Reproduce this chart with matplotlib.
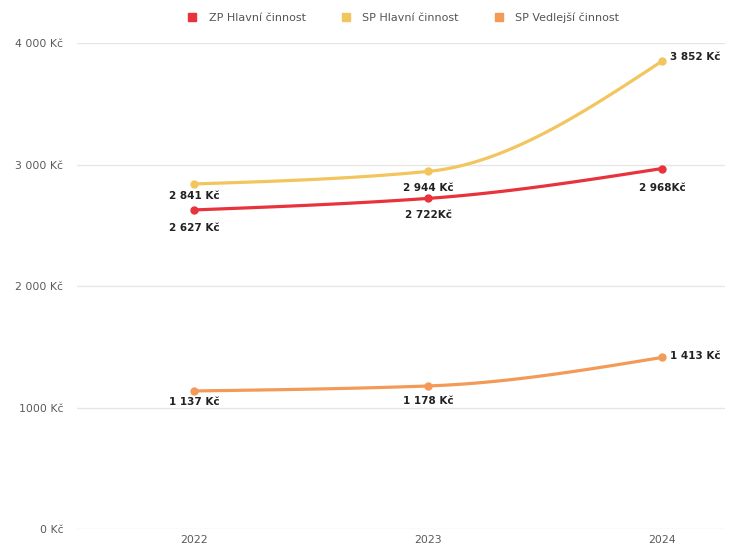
import numpy as np
import matplotlib.pyplot as plt
from matplotlib.lines import Line2D

plt.rcParams['font.family'] = ['DejaVu Sans']

# data
years = ['2022', '2023', '2024']
zp_hlavni = [2627, 2722, 2968]
sp_hlavni = [2841, 2944, 3852]
sp_vedlejsi = [1137, 1178, 1413]
zp_labels = ['2 627 Kč', '2 722Kč', '2 968Kč']
sp_labels = ['2 841 Kč', '2 944 Kč', '3 852 Kč']
sv_labels = ['1 137 Kč', '1 178 Kč', '1 413 Kč']
y_ticks = [0, 1000, 2000, 3000, 4000]
y_tick_labels = ['0 Kč', '1000 Kč', '2 000 Kč', '3 000 Kč', '4 000 Kč']
series_names = ['ZP Hlavní činnost', 'SP Hlavní činnost', 'SP Vedlejší činnost']
colors = ['#e8323c', '#f2c55e', '#f39a58']


def monotone_curve(x, y, n=60):
    # monotone cubic (d3 style), only used to draw a smooth line
    x = np.asarray(x, float)
    y = np.asarray(y, float)
    h = np.diff(x)
    d = np.diff(y) / h
    m = np.zeros_like(y)
    for i in range(1, len(y) - 1):
        if d[i - 1] * d[i] <= 0:
            m[i] = 0
        else:
            m[i] = 3 * (h[i - 1] + h[i]) / ((2 * h[i] + h[i - 1]) / d[i - 1] + (h[i] + 2 * h[i - 1]) / d[i])
    m[0] = (3 * d[0] - m[1]) / 2
    m[-1] = (3 * d[-1] - m[-2]) / 2
    xs, ys = [], []
    for i in range(len(x) - 1):
        t = np.linspace(0, 1, n)
        h00 = 2 * t**3 - 3 * t**2 + 1
        h10 = t**3 - 2 * t**2 + t
        h01 = -2 * t**3 + 3 * t**2
        h11 = t**3 - t**2
        xs.append(x[i] + t * h[i])
        ys.append(h00 * y[i] + h10 * h[i] * m[i] + h01 * y[i + 1] + h11 * h[i] * m[i + 1])
    return np.concatenate(xs), np.concatenate(ys)


fig = plt.figure(figsize=(7.34, 5.46), dpi=100)
ax = fig.add_axes([0.105, 0.031, 0.883, 0.890])

x = np.arange(len(years))
all_series = [zp_hlavni, sp_hlavni, sp_vedlejsi]
all_labels = [zp_labels, sp_labels, sv_labels]
# label offsets in points (dx, dy) for each point
offsets = [
    [(0, -13), (0, -12), (0, -14)],
    [(0, -9), (0, -12), (24, 3)],
    [(0, -8), (0, -11), (24, 1)],
]

for vals, labs, offs, col in zip(all_series, all_labels, offsets, colors):
    xs, ys = monotone_curve(x, vals)
    ax.plot(xs, ys, color=col, lw=2.3, solid_capstyle='round', zorder=3)
    ax.plot(x, vals, 'o', color=col, ms=5, zorder=4)
    for xi, v, lab, (dx, dy) in zip(x, vals, labs, offs):
        ax.annotate(lab, (xi, v), xytext=(dx, dy), textcoords='offset points',
                    ha='center', va='center', fontsize=7.5, fontweight='bold',
                    color='#222222', zorder=5)

ax.set_ylim(0, 4000)
ax.set_xlim(-0.5, 2.27)
ax.set_yticks(y_ticks)
ax.set_yticklabels(y_tick_labels)
ax.set_xticks(x)
ax.set_xticklabels(years)
ax.tick_params(axis='both', length=0, labelsize=7.8, labelcolor='#5a5a5a')
ax.tick_params(axis='y', pad=10)
ax.tick_params(axis='x', pad=4)
ax.grid(axis='y', color='#e6e6e6', lw=1)
ax.set_axisbelow(True)
for s in ax.spines.values():
    s.set_visible(False)

handles = [Line2D([], [], marker='s', ls='none', color=c, ms=6) for c in colors]
fig.legend(handles, series_names, loc='center', bbox_to_anchor=(0.545, 0.967), ncol=3,
           frameon=False, fontsize=8, labelcolor='#555555', handletextpad=0.5,
           columnspacing=2.6)

fig.savefig('out.png', dpi=100)
